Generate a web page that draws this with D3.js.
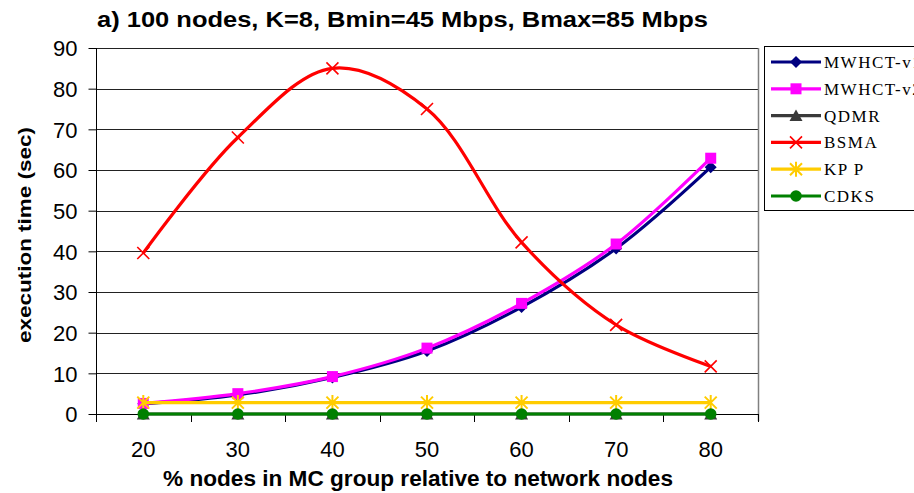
<!DOCTYPE html>
<html>
<head>
<meta charset="utf-8">
<title>execution time</title>
<script src="https://d3js.org/d3.v7.min.js"></script>
<style>
body{margin:0;background:#fff;}
svg{display:block;background:#fff;}
.axis text{font-family:"Liberation Sans",Arial,sans-serif;font-size:22px;fill:#000;}
.legend text{font-family:"Liberation Serif","Times New Roman",serif;font-size:17px;letter-spacing:1.5px;fill:#000;}
</style>
</head>
<body>
<script>
// data
var categories = [20, 30, 40, 50, 60, 70, 80];
var yTicks = [0, 10, 20, 30, 40, 50, 60, 70, 80, 90];
var seriesNames = ["MWHCT-v1", "MWHCT-v2", "QDMR", "BSMA", "KP P", "CDKS"];
var mwhct1 = [2.5, 4.7, 9.0, 15.5, 26.3, 40.7, 60.7];
var mwhct2 = [2.6, 5.0, 9.2, 16.2, 27.2, 41.8, 62.9];
var qdmr   = [0, 0, 0, 0, 0, 0, 0];
var bsma   = [39.6, 68.0, 85.0, 75.0, 42.2, 21.9, 11.7];
var kpp    = [2.8, 2.8, 2.8, 2.8, 2.8, 2.8, 2.8];
var cdks   = [0, 0, 0, 0, 0, 0, 0];

var series = [
    {name: seriesNames[0], values: mwhct1, color: "#000080", marker: "diamond"},
    {name: seriesNames[1], values: mwhct2, color: "#ff00ff", marker: "square"},
    {name: seriesNames[2], values: qdmr,   color: "#3a3a3a", marker: "triangle"},
    {name: seriesNames[3], values: bsma,   color: "#ff0000", marker: "cross"},
    {name: seriesNames[4], values: kpp,    color: "#ffcc00", marker: "star"},
    {name: seriesNames[5], values: cdks,   color: "#008000", marker: "circle"}
];

var W = 914, H = 493;
var plotL = 96, plotR = 758, plotT = 48, plotB = 414;

var svg = d3.select("body").append("svg")
    .attr("width", W)
    .attr("height", H);

var x = d3.scaleBand().domain(categories).range([plotL, plotR]);
var y = d3.scaleLinear().domain([0, 90]).range([plotB, plotT]);
function cx(d){ return x(d) + x.bandwidth() / 2; }

// gridlines
svg.append("g").selectAll("line")
    .data(yTicks.slice(1))
    .enter().append("line")
    .attr("x1", plotL).attr("x2", plotR)
    .attr("y1", function(d){ return Math.round(y(d)) + 0.5; })
    .attr("y2", function(d){ return Math.round(y(d)) + 0.5; })
    .attr("stroke", "#222").attr("stroke-width", 1);

// right frame
svg.append("line")
    .attr("x1", plotR + 0.5).attr("x2", plotR + 0.5)
    .attr("y1", plotT).attr("y2", plotB + 7)
    .attr("stroke", "#808080").attr("stroke-width", 1.5);

// y axis
var yAxis = svg.append("g")
    .attr("class", "axis")
    .attr("transform", "translate(" + (plotL + 0.5) + ",0)")
    .call(d3.axisLeft(y).tickValues(yTicks).tickSize(8).tickPadding(11).tickFormat(d3.format("d")));
yAxis.select(".domain").attr("stroke", "#000").attr("d", "M0," + plotT + "V" + (plotB + 7));
yAxis.selectAll(".tick line").attr("stroke", "#000");
yAxis.selectAll(".tick text").attr("dy", "0.36em");

// x axis
svg.append("line")
    .attr("x1", plotL).attr("x2", plotR)
    .attr("y1", plotB + 0.5).attr("y2", plotB + 0.5)
    .attr("stroke", "#000");
var bounds = categories.map(function(c){ return x(c); }).concat([x.range()[1]]);
svg.append("g").selectAll("line")
    .data(bounds)
    .enter().append("line")
    .attr("x1", function(d){ return Math.round(d) + 0.5; })
    .attr("x2", function(d){ return Math.round(d) + 0.5; })
    .attr("y1", plotB).attr("y2", plotB + 8)
    .attr("stroke", "#000");
var xAxis = svg.append("g").attr("class", "axis");
xAxis.selectAll("text")
    .data(categories)
    .enter().append("text")
    .attr("x", cx)
    .attr("y", 457)
    .attr("text-anchor", "middle")
    .text(function(d){ return d; });

// titles
svg.append("text")
    .attr("x", 97).attr("y", 27)
    .attr("textLength", 611).attr("lengthAdjust", "spacingAndGlyphs")
    .style("font-family", "'Liberation Sans',Arial,sans-serif")
    .style("font-weight", "bold").style("font-size", "22px")
    .text("a) 100 nodes, K=8, Bmin=45 Mbps, Bmax=85 Mbps");

svg.append("text")
    .attr("x", 163).attr("y", 486)
    .attr("textLength", 510).attr("lengthAdjust", "spacingAndGlyphs")
    .style("font-family", "'Liberation Sans',Arial,sans-serif")
    .style("font-weight", "bold").style("font-size", "22px")
    .text("% nodes in MC group relative to network nodes");

svg.append("text")
    .attr("transform", "translate(31,235) rotate(-90)")
    .attr("text-anchor", "middle")
    .attr("textLength", 216).attr("lengthAdjust", "spacingAndGlyphs")
    .style("font-family", "'Liberation Sans',Arial,sans-serif")
    .style("font-weight", "bold").style("font-size", "19px")
    .text("execution time (sec)");

// markers
function drawMarker(g, type, color){
    if (type == "diamond") {
        g.append("path").attr("d", "M0,-6L6,0L0,6L-6,0Z").attr("fill", color);
    } else if (type == "square") {
        g.append("rect").attr("x", -5.5).attr("y", -5.5).attr("width", 11).attr("height", 11).attr("fill", color);
    } else if (type == "triangle") {
        g.append("path").attr("d", "M0,-6L6.5,5.5L-6.5,5.5Z").attr("fill", color);
    } else if (type == "cross") {
        g.append("path").attr("d", "M-6,-6L6,6M-6,6L6,-6").attr("stroke", color).attr("stroke-width", 1.6).attr("fill", "none");
    } else if (type == "star") {
        g.append("path").attr("d", "M-6,-6L6,6M-6,6L6,-6M0,-7.5L0,7.5").attr("stroke", color).attr("stroke-width", 2).attr("fill", "none");
    } else if (type == "circle") {
        g.append("circle").attr("r", 5.8).attr("fill", color);
    }
}

var line = d3.line()
    .x(function(d, i){ return cx(categories[i]); })
    .y(function(d){ return y(d); })
    .curve(d3.curveCatmullRom.alpha(0.5));

series.forEach(function(s){
    var g = svg.append("g");
    g.append("path")
        .attr("d", line(s.values))
        .attr("fill", "none")
        .attr("stroke", s.color)
        .attr("stroke-width", 3.2)
        .attr("stroke-linejoin", "round");
    s.values.forEach(function(v, i){
        var m = g.append("g").attr("transform", "translate(" + cx(categories[i]) + "," + y(v) + ")");
        drawMarker(m, s.marker, s.color);
    });
});

// legend
var legend = svg.append("g").attr("class", "legend");
legend.append("rect")
    .attr("x", 764.5).attr("y", 46.5)
    .attr("width", 200).attr("height", 164)
    .attr("fill", "#fff").attr("stroke", "#000");
series.forEach(function(s, i){
    var ly = 62 + i * 26.8;
    legend.append("line")
        .attr("x1", 771).attr("x2", 821)
        .attr("y1", ly).attr("y2", ly)
        .attr("stroke", s.color).attr("stroke-width", 3.2);
    var m = legend.append("g").attr("transform", "translate(796," + ly + ")");
    drawMarker(m, s.marker, s.color);
    legend.append("text")
        .attr("x", 824).attr("y", ly + 6)
        .text(s.name);
});
</script>
</body>
</html>
